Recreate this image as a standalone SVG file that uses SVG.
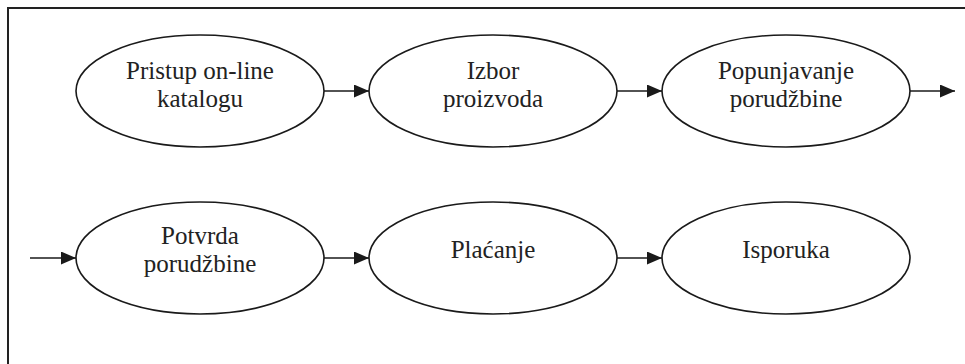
<svg xmlns="http://www.w3.org/2000/svg" width="965" height="364" viewBox="0 0 965 364">
  <style>
    .frame { fill: none; stroke: #222; stroke-width: 2; }
    .node ellipse { fill: #fff; stroke: #1a1a1a; stroke-width: 1.6; }
    .node text { font-family: "Liberation Serif", "Times New Roman", serif; font-size: 25px; fill: #222; text-anchor: middle; }
    .edge { stroke: #1a1a1a; stroke-width: 1.6; fill: none; marker-end: url(#arrow); }
  </style>
  <defs>
    <marker id="arrow" markerWidth="15" markerHeight="13" refX="15" refY="6.5" orient="auto" markerUnits="userSpaceOnUse">
      <path d="M0,0 L15,6.5 L0,13 Z" fill="#1a1a1a"/>
    </marker>
  </defs>

  <rect width="965" height="364" fill="#fff"/>
  <!-- outer frame, open on the right and bottom -->
  <path class="frame" d="M8,372 L8,8 L975,8"/>

  <g id="connectors">
    <line class="edge" x1="324" y1="91" x2="369" y2="91"/>
    <line class="edge" x1="617" y1="91" x2="662" y2="91"/>
    <line class="edge" x1="910" y1="91" x2="955" y2="91"/>
    <line class="edge" x1="30" y1="258" x2="76" y2="258"/>
    <line class="edge" x1="324" y1="258" x2="369" y2="258"/>
    <line class="edge" x1="617" y1="258" x2="662" y2="258"/>
  </g>

  <g id="pristup" class="node">
    <ellipse cx="200" cy="91" rx="124" ry="56"/>
    <text x="200" y="79">Pristup on-line</text>
    <text x="200" y="107">katalogu</text>
  </g>
  <g id="izbor" class="node">
    <ellipse cx="493" cy="91" rx="124" ry="56"/>
    <text x="493" y="79">Izbor</text>
    <text x="493" y="107">proizvoda</text>
  </g>
  <g id="popunjavanje" class="node">
    <ellipse cx="786" cy="91" rx="124" ry="56"/>
    <text x="786" y="79">Popunjavanje</text>
    <text x="786" y="107">porudžbine</text>
  </g>
  <g id="potvrda" class="node">
    <ellipse cx="200" cy="258" rx="124" ry="56"/>
    <text x="200" y="244">Potvrda</text>
    <text x="200" y="272">porudžbine</text>
  </g>
  <g id="placanje" class="node">
    <ellipse cx="493" cy="258" rx="124" ry="56"/>
    <text x="493" y="258">Plaćanje</text>
  </g>
  <g id="isporuka" class="node">
    <ellipse cx="786" cy="258" rx="124" ry="56"/>
    <text x="786" y="258">Isporuka</text>
  </g>
</svg>
